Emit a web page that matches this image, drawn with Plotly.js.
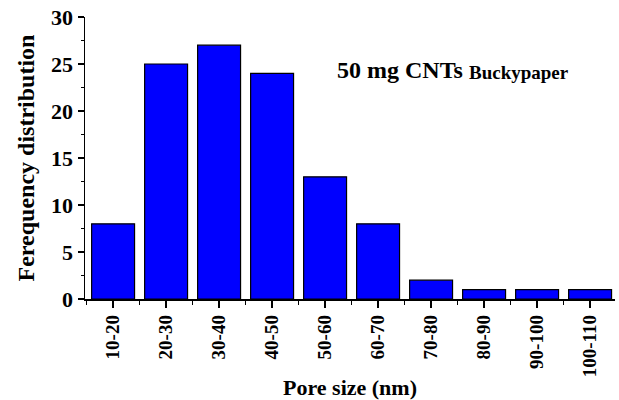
<!DOCTYPE html>
<html>
<head>
<meta charset="utf-8">
<script src="https://cdn.plot.ly/plotly-3.0.1.min.js"></script>
<style>html,body{margin:0;padding:0;background:#fff;}#chart{width:619px;height:400px;}</style>
</head>
<body>
<div id="chart"></div>
<script>
const categories = ["10-20","20-30","30-40","40-50","50-60","60-70","70-80","80-90","90-100","100-110"];
const frequency = [8, 25, 27, 24, 13, 8, 2, 1, 1, 1];
const yTicks = [0, 5, 10, 15, 20, 25, 30];

const positions = categories.map((c, i) => i);
const font = "'Liberation Serif', 'Times New Roman', serif";

const trace = {
  type: "bar",
  x: positions,
  y: frequency,
  hovertext: categories,
  textposition: "none",
  marker: {color: "#0000ff", line: {color: "#000", width: 1.2}},
  width: 0.81
};

const layout = {
  width: 619, height: 400,
  margin: {l: 85, r: 4, t: 17, b: 101},
  paper_bgcolor: "#fff", plot_bgcolor: "#fff",
  showlegend: false,
  font: {family: font, color: "#000"},
  xaxis: {
    range: [-0.53, 9.47],
    tickvals: positions,
    ticktext: categories,
    tickangle: -90,
    ticks: "outside", ticklen: 7, tickwidth: 1.5, tickcolor: "#000",
    minor: {ticks: "outside", ticklen: 4, tickwidth: 1.5, tickcolor: "#000", tick0: 0.5, dtick: 1},
    showline: true, linecolor: "#000", linewidth: 1.5,
    showgrid: false, zeroline: false,
    tickfont: {family: font, size: 19, color: "#000", weight: "bold"},
    title: {text: "<b>Pore size (nm)</b>", font: {family: font, size: 22, color: "#000"}, standoff: 5}
  },
  yaxis: {
    range: [0, 30],
    tickvals: yTicks,
    ticks: "outside", ticklen: 6, tickwidth: 1.5, tickcolor: "#000",
    minor: {ticks: "outside", ticklen: 3, tickwidth: 1.5, tickcolor: "#000", dtick: 2.5},
    showline: true, linecolor: "#000", linewidth: 1.5,
    showgrid: false, zeroline: false,
    tickfont: {family: font, size: 22, color: "#000", weight: "bold"},
    title: {text: "<b>Ferequency distribution</b>", font: {family: font, size: 24, color: "#000"}, standoff: 9}
  },
  annotations: [{
    xref: "paper", yref: "paper", x: 0.472, y: 0.812,
    xanchor: "left", yanchor: "middle", showarrow: false,
    text: "<b>50 mg CNTs</b>",
    font: {family: font, color: "#000", size: 24}
  }, {
    xref: "paper", yref: "paper", x: 0.721, y: 0.803,
    xanchor: "left", yanchor: "middle", showarrow: false,
    text: "<b>Buckypaper</b>",
    font: {family: font, color: "#000", size: 19}
  }]
};

Plotly.newPlot("chart", [trace], layout, {displayModeBar: false, staticPlot: true});
</script>
</body>
</html>
